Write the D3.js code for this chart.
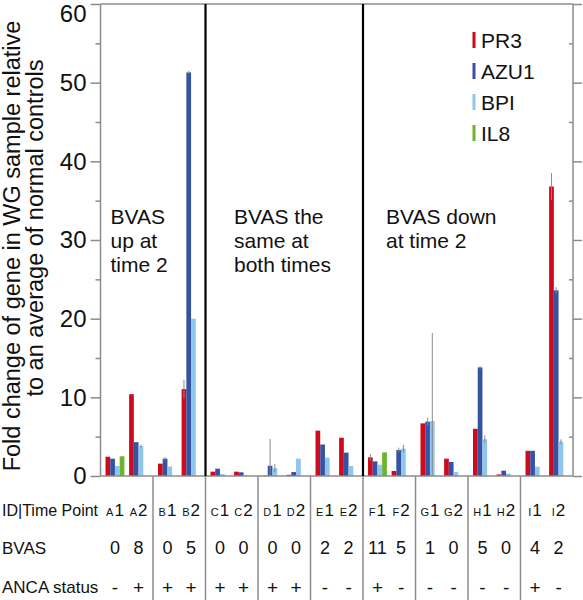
<!DOCTYPE html>
<html>
<head>
<meta charset="utf-8">
<script src="https://cdn.jsdelivr.net/npm/d3@7"></script>
<style>
  html, body { margin: 0; padding: 0; background: #fff; }
  svg { display: block; font-family: "Liberation Sans", Arial, sans-serif; }
</style>
</head>
<body>
<svg id="chart" width="583" height="600"></svg>
<script>
// ---------------- DATA ----------------
const groups = ["A","B","C","D","E","F","G","H","I"];
const timePoints = ["A1","A2","B1","B2","C1","C2","D1","D2","E1","E2","F1","F2","G1","G2","H1","H2","I1","I2"];
const genes = ["PR3","AZU1","BPI","IL8"];
const pr3  = [2.45,10.4,1.57,11.05,0.55,0.55,0.05,0.15,5.76,4.87,2.37,0.64,6.69,2.2,6.0,0.2,3.2,36.8];
const azu1 = [2.2,4.3,2.2,51.3,0.93,0.47,1.3,0.5,4.0,2.97,1.86,3.3,6.9,1.78,13.8,0.68,3.2,23.6];
const bpi  = [1.27,3.8,1.2,20.0,0.25,0.1,1.0,2.2,2.33,1.27,1.44,3.47,6.98,0.5,4.66,0.3,1.18,4.36];
const il8  = [2.5,0,0,0,0,0,0,0,0,0,3.0,0,0,0,0,0,0,0];
const pr3Err  = [0,0,0,1.2,0,0,0,0,0,0,0.4,0,0,0,0,0,0,1.7];
const azu1Err = [0,0,0.2,0.2,0,0,3.4,0,0,0,0,0.3,0.5,0,0.2,0,0,0.4];
const bpiErr  = [0,0.2,0,0,0,0,0.5,0,0,0,0,0.5,11.2,0,0.5,0,0,0.3];
const il8Err  = [0,0,0,0,0,0,0,0,0,0,0,0,0,0,0,0,0,0];
const bvas = ["0","8","0","5","0","0","0","0","2","2","11","5","1","0","5","0","4","2"];
const anca = ["-","+","+","+","+","+","+","+","-","-","+","-","-","-","-","-","+","-"];
const yTicks = [0,10,20,30,40,50,60];
const yMinor = [5,15,25,35,45,55];
const annotationGroups = ["A","C","F"];
const annotationLines = [["BVAS","up at","time 2"],["BVAS the","same at","both times"],["BVAS down","at time 2"]];
const separators = ["C","F"];
const rowLabels = ["ID|Time Point","BVAS","ANCA status"];
const yTitleLines = ["Fold change of gene in WG sample relative","to an average of normal controls"];

// ---------------- STYLE ----------------
const colors = {PR3:"#cc0b1d", AZU1:"#3652a3", BPI:"#8fc6ea", IL8:"#6cb42e"};
const axisGray = "#8c8c8c";
const annotationOffsets = [10, 28.5, 23];
const seriesVals = {PR3:pr3, AZU1:azu1, BPI:bpi, IL8:il8};
const seriesErr = {PR3:pr3Err, AZU1:azu1Err, BPI:bpiErr, IL8:il8Err};

const svg = d3.select("#chart");
const pLeft = 100.5, pRight = 573, pTop = 4, pBottom = 476;

const x0 = d3.scaleBand().domain(groups).range([pLeft, pRight]);
const x1 = d3.scaleBand().domain([0,1]).range([5, 47.5]).paddingInner(0.2);
const x2 = d3.scaleBand().domain(genes).range([0, x1.bandwidth()]);
const y = d3.scaleLinear().domain([0,60]).range([pBottom, pTop]);

function baseX(i){ return x0(groups[Math.floor(i/2)]) + x1(i % 2); }

// Table vertical lines
const bounds = groups.slice(1).map(g => x0(g));
svg.append("g").selectAll("line").data(bounds).join("line")
  .attr("x1", d => d).attr("x2", d => d)
  .attr("y1", pBottom).attr("y2", 600)
  .attr("stroke", axisGray).attr("stroke-width", 1.5);

// Bars
const barData = [];
timePoints.forEach((tp, i) => {
  genes.forEach(g => {
    const v = seriesVals[g][i];
    if (v > 0) barData.push({i, g, v, e: seriesErr[g][i]});
  });
});
svg.append("g").selectAll("rect").data(barData).join("rect")
  .attr("x", d => baseX(d.i) + x2(d.g))
  .attr("y", d => y(d.v))
  .attr("width", x2.bandwidth())
  .attr("height", d => y(0) - y(d.v))
  .attr("fill", d => colors[d.g]);

// Error bars
svg.append("g").selectAll("line").data(barData.filter(d => d.e > 0)).join("line")
  .attr("x1", d => baseX(d.i) + x2(d.g) + x2.bandwidth()/2)
  .attr("x2", d => baseX(d.i) + x2(d.g) + x2.bandwidth()/2)
  .attr("y1", d => y(Math.max(0, d.v - d.e)))
  .attr("y2", d => y(d.v + d.e))
  .attr("stroke", "#8a8a8a").attr("stroke-width", 1);

// Frame top line
svg.append("line").attr("x1", pLeft).attr("x2", pRight).attr("y1", pTop).attr("y2", pTop)
  .attr("stroke", axisGray).attr("stroke-width", 1.5);

// Left axis
const gL = svg.append("g").attr("transform", `translate(${pLeft},0)`)
  .call(d3.axisLeft(y).tickValues(yTicks).tickSize(10).tickPadding(4).tickFormat(d3.format("d")));
gL.selectAll("text").attr("font-size", 24).attr("fill", "#111")
  .attr("font-family", "Liberation Sans, Arial, sans-serif")
  .attr("dy", d => d === 60 ? "0.72em" : "0.32em");
const gLm = svg.append("g").attr("transform", `translate(${pLeft},0)`)
  .call(d3.axisLeft(y).tickValues(yMinor).tickSize(5).tickFormat(""));
gLm.select(".domain").remove();

// Right axis
const gR = svg.append("g").attr("transform", `translate(${pRight},0)`)
  .call(d3.axisRight(y).tickValues(yTicks).tickSize(9).tickFormat(""));
const gRm = svg.append("g").attr("transform", `translate(${pRight},0)`)
  .call(d3.axisRight(y).tickValues(yMinor).tickSize(-4).tickFormat(""));
gRm.select(".domain").remove();

// Bottom axis line
svg.append("line").attr("x1", pLeft).attr("x2", pRight).attr("y1", pBottom).attr("y2", pBottom)
  .attr("stroke", axisGray).attr("stroke-width", 1.5);

[gL, gLm, gR, gRm].forEach(g => {
  g.selectAll("path.domain").attr("stroke", axisGray).attr("stroke-width", 1.5);
  g.selectAll(".tick line").attr("stroke", axisGray).attr("stroke-width", 1.5);
});
gL.select(".domain").attr("d", `M-0,${pBottom}V${pTop}`);
gR.select(".domain").attr("d", `M0,${pBottom}V${pTop}`);

// Thick black separators
svg.append("g").selectAll("line").data(separators).join("line")
  .attr("x1", d => x0(d)).attr("x2", d => x0(d))
  .attr("y1", pTop).attr("y2", pBottom)
  .attr("stroke", "#000").attr("stroke-width", 2.2);

// Y axis title
const titlePos = [{x:20, y:246}, {x:43, y:228}];
yTitleLines.forEach((ln, k) => {
  svg.append("text").attr("transform", `translate(${titlePos[k].x},${titlePos[k].y}) rotate(-90)`)
    .attr("text-anchor", "middle").attr("font-size", 23.5).attr("fill", "#111")
    .text(ln);
});

// Annotations
annotationGroups.forEach((g, j) => {
  const t = svg.append("text").attr("font-size", 21).attr("fill", "#111");
  annotationLines[j].forEach((ln, k) => {
    t.append("tspan").attr("x", x0(g) + annotationOffsets[j]).attr("y", 224 + k * 24).text(ln);
  });
});

// Legend
const leg = svg.append("g");
genes.forEach((g, k) => {
  const cy = 40 + k * 31;
  leg.append("rect").attr("x", 472.5).attr("y", cy - 8).attr("width", 3).attr("height", 16).attr("fill", colors[g]);
  leg.append("text").attr("x", 481).attr("y", cy).attr("dy", "0.36em")
    .attr("font-size", 21).attr("fill", "#111").text(g);
});

// Table
const rowY = [510, 548, 587];
rowLabels.forEach((lbl, k) => {
  svg.append("text").attr("x", 2).attr("y", rowY[k]).attr("dy", "0.36em")
    .attr("font-size", k === 0 ? 16 : 17).attr("fill", "#111").text(lbl);
});
timePoints.forEach((tp, i) => {
  const cx = baseX(i) + x1.bandwidth() / 2;
  const t = svg.append("text").attr("x", cx).attr("y", rowY[0]).attr("dy", "0.36em")
    .attr("text-anchor", "middle").attr("fill", "#111");
  t.append("tspan").attr("font-size", 11).text(tp[0]);
  t.append("tspan").attr("font-size", 17).attr("dx", 1).text(tp.slice(1));
  svg.append("text").attr("x", cx).attr("y", rowY[1]).attr("dy", "0.36em")
    .attr("text-anchor", "middle").attr("font-size", 18).attr("fill", "#111").text(bvas[i]);
  svg.append("text").attr("x", cx).attr("y", rowY[2]).attr("dy", "0.36em")
    .attr("text-anchor", "middle").attr("font-size", 19).attr("fill", "#111").text(anca[i]);
});
</script>
</body>
</html>
